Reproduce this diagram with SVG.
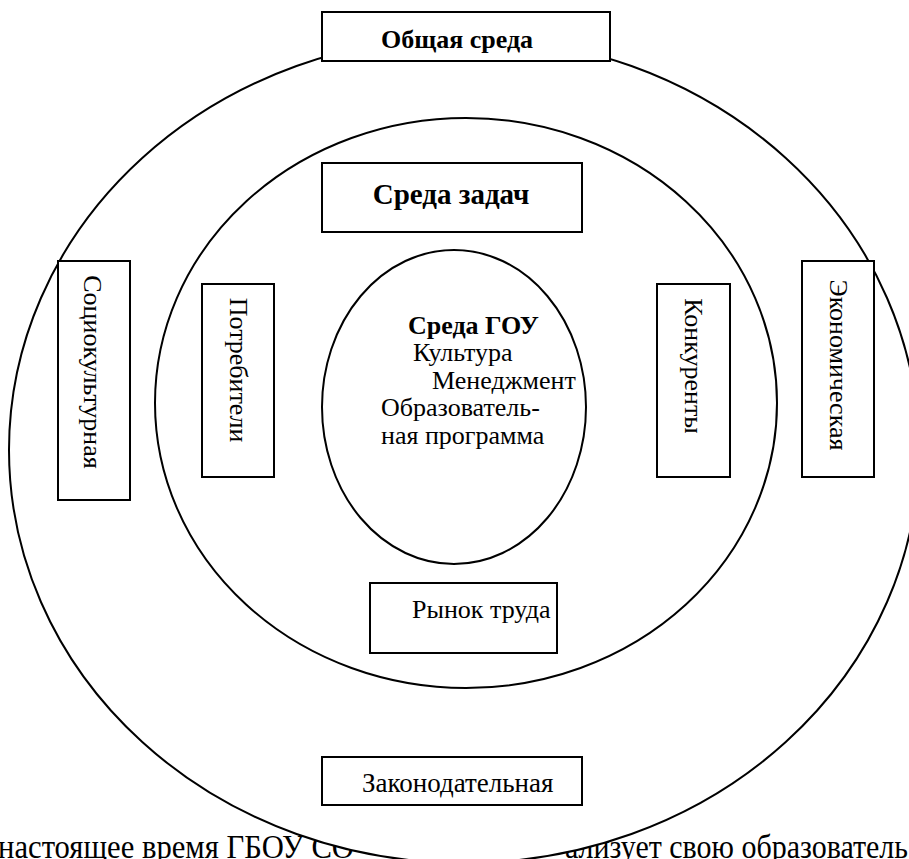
<svg xmlns="http://www.w3.org/2000/svg" width="909" height="859" viewBox="0 0 909 859">
<style>
.shape{fill:#fff;stroke:#000;stroke-width:2}
.t{font-family:'Liberation Serif','Times New Roman','DejaVu Serif',serif;font-size:26px;fill:#000}
.b{font-weight:bold}
</style>
<rect width="909" height="859" fill="#fff"/>
<g id="body-text" class="t" font-family="Liberation Serif, Times New Roman, DejaVu Serif, serif" font-size="30">
<text transform="translate(0,858) scale(1,1.15)" x="-2" y="0" font-size="30" textLength="356" lengthAdjust="spacingAndGlyphs">настоящее время ГБОУ СО</text>
<text transform="translate(0,858) scale(1,1.15)" x="565" y="0" font-size="30" textLength="343" lengthAdjust="spacingAndGlyphs">ализует свою образователь</text>
</g>
<g id="outer">
<ellipse class="shape" cx="464" cy="450" rx="455" ry="413"/>
</g>
<g id="general" class="t" font-family="Liberation Serif, Times New Roman, DejaVu Serif, serif">
<rect class="shape" x="322" y="12" width="288" height="49"/>
<text class="b" x="457" y="48" text-anchor="middle">Общая среда</text>
</g>
<g id="task-env">
<ellipse class="shape" cx="466" cy="403" rx="311" ry="285"/>
</g>
<g id="tasks" class="t" font-family="Liberation Serif, Times New Roman, DejaVu Serif, serif">
<rect class="shape" x="322" y="163" width="260" height="69"/>
<text class="b" x="451" y="204" font-size="29" text-anchor="middle">Среда задач</text>
</g>
<g id="socio" class="t" font-family="Liberation Serif, Times New Roman, DejaVu Serif, serif">
<rect class="shape" x="58" y="261" width="72" height="239"/>
<text transform="translate(84,372) rotate(90)" text-anchor="middle">Социокультурная</text>
</g>
<g id="consumers" class="t" font-family="Liberation Serif, Times New Roman, DejaVu Serif, serif">
<rect class="shape" x="202" y="284" width="72" height="193"/>
<text transform="translate(230,370) rotate(90)" text-anchor="middle">Потребители</text>
</g>
<g id="competitors" class="t" font-family="Liberation Serif, Times New Roman, DejaVu Serif, serif">
<rect class="shape" x="657" y="284" width="73" height="193"/>
<text transform="translate(685,366) rotate(90)" text-anchor="middle">Конкуренты</text>
</g>
<g id="economic" class="t" font-family="Liberation Serif, Times New Roman, DejaVu Serif, serif">
<rect class="shape" x="802" y="261" width="72" height="216"/>
<text transform="translate(830,365) rotate(90)" text-anchor="middle">Экономическая</text>
</g>
<g id="gou" class="t" font-family="Liberation Serif, Times New Roman, DejaVu Serif, serif">
<ellipse class="shape" cx="454" cy="407" rx="132" ry="157"/>
<text class="b" x="408" y="334">Среда ГОУ</text>
<text x="413" y="361">Культура</text>
<text x="432" y="389">Менеджмент</text>
<text x="381" y="416">Образователь-</text>
<text x="381" y="444">ная программа</text>
</g>
<g id="labour" class="t" font-family="Liberation Serif, Times New Roman, DejaVu Serif, serif">
<rect class="shape" x="370" y="583" width="187" height="70"/>
<text x="412" y="618">Рынок труда</text>
</g>
<g id="legal" class="t" font-family="Liberation Serif, Times New Roman, DejaVu Serif, serif">
<rect class="shape" x="322" y="757" width="260" height="48"/>
<text x="362" y="792" font-size="27">Законодательная</text>
</g>
<g id="connectors"/>
</svg>
